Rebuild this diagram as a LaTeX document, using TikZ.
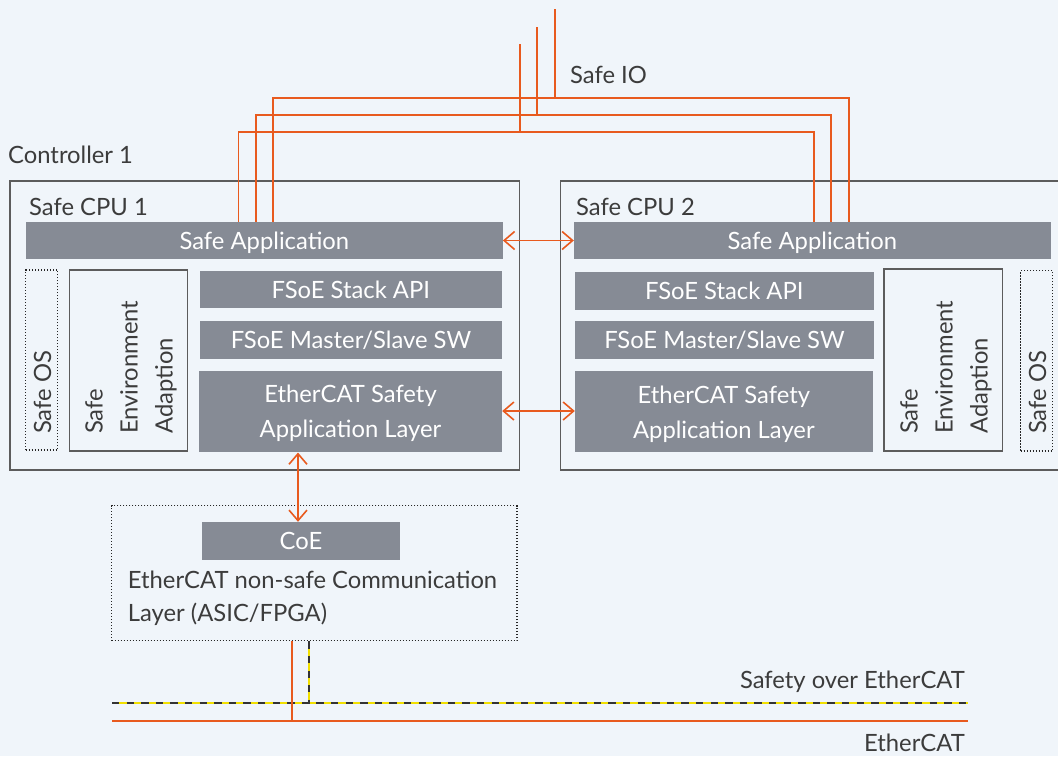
\documentclass[tikz,border=0pt]{standalone}
\usepackage{fontspec}
\setmainfont{Lato}
\usetikzlibrary{arrows.meta,calc}
\definecolor{bgc}{HTML}{F0F5FA}
\definecolor{barc}{HTML}{868B95}
\definecolor{txtc}{HTML}{3C3C3C}
\definecolor{edgec}{HTML}{5C5C5C}
\definecolor{orng}{HTML}{E85A1E}
\definecolor{yel}{HTML}{F2E000}
\tikzset{
  bar/.style={fill=barc, draw=none, text=white, inner sep=0pt, align=center, text depth=0pt},
  cpubox/.style={draw=edgec, line width=1.1pt},
  plainbox/.style={draw=edgec, line width=1.1pt, inner sep=0pt},
  dotbox/.style={draw=black!85, line width=1.2pt, dash pattern=on 1.2pt off 1.8pt, inner sep=0pt},
  lbl/.style={text=txtc, inner sep=0pt},
  wire/.style={draw=orng, line width=1.6pt},
  arr/.style={draw=orng, line width=1.6pt, {Straight Barb[length=10.5pt,width=18pt]}-{Straight Barb[length=10.5pt,width=18pt]}},
  busyel/.style={draw=yel, line width=2.4pt},
  busblk/.style={draw=black!80, line width=2.4pt, dash pattern=on 7.3pt off 7.3pt},
  rottxt/.style={text=txtc, rotate=90, anchor=west, align=left, inner sep=0pt, font=\fontsize{23.8}{35}\selectfont}
}
\begin{document}
\begin{tikzpicture}[x=1pt,y=-1pt,font=\fontsize{23.8}{35}\selectfont]
\fill[bgc] (0,0) rectangle (1058,756);
\useasboundingbox (0,0) rectangle (1058,756);

% labels
\node[lbl, anchor=west] (ctrl) at (8,155) {Controller 1};
\node[lbl, anchor=west] (io) at (570,75) {Safe IO};

% CPU 1
\draw[cpubox] (10,181) rectangle (519.5,470);
\node[lbl, anchor=west] (cpu1) at (29,207) {Safe CPU 1};
\node[bar, minimum width=476.7pt, minimum height=37pt] (sa1) at (264.35,240.5) {Safe Application};
\node[bar, minimum width=301.7pt, minimum height=37pt] (api1) at (350.85,289.5) {FSoE Stack API};
\node[bar, minimum width=302pt, minimum height=37.7pt] (ms1) at (351,339.85) {FSoE Master/Slave SW};
\node[bar, minimum width=303pt, minimum height=81.7pt] (ecs1) at (350.5,411.5) {EtherCAT Safety\\Application Layer};
\node[dotbox, minimum width=32pt, minimum height=180pt] (os1) at (41.7,360) {};
\node[plainbox, minimum width=118pt, minimum height=181pt] (sea1) at (128.7,360.5) {};
\node[rottxt] (os1t) at (42.5,434) {Safe OS};
\node[rottxt] (sea1t) at (131,434) {Safe\\Environment\\Adaption};

% CPU 2
\draw[cpubox] (1062,181) -- (560.7,181) -- (560.7,470) -- (1062,470);
\node[lbl, anchor=west] (cpu2) at (576,207) {Safe CPU 2};
\node[bar, minimum width=476.7pt, minimum height=37pt] (sa2) at (812.35,240.5) {Safe Application};
\node[bar, minimum width=298.7pt, minimum height=37.7pt] (api2) at (724.35,290.85) {FSoE Stack API};
\node[bar, minimum width=299pt, minimum height=38pt] (ms2) at (724.5,340) {FSoE Master/Slave SW};
\node[bar, minimum width=297.7pt, minimum height=80.7pt] (ecs2) at (723.85,411.8) {EtherCAT Safety\\Application Layer};
\node[plainbox, minimum width=118.7pt, minimum height=182pt] (sea2) at (943.35,360) {};
\node[dotbox, minimum width=32pt, minimum height=180.3pt] (os2) at (1036.7,360.85) {};
\node[rottxt] (sea2t) at (946,434) {Safe\\Environment\\Adaption};
\node[rottxt] (os2t) at (1037.5,434) {Safe OS};

% arrows between CPUs
\draw[arr] (sa1.east) -- (sa2.west);
\draw[arr] (ecs1.east |- 0,411) -- (ecs2.west |- 0,411);

% communication layer
\node[dotbox, minimum width=405.3pt, minimum height=135pt] (ecl) at (314.35,573.2) {};
\node[bar, minimum width=198pt, minimum height=37.7pt] (coe) at (301,540.85) {CoE};
\node[lbl, anchor=west, align=left, font=\fontsize{23.8}{33}\selectfont] (eclt) at (127.7,598) {EtherCAT non-safe Communication\\Layer (ASIC/FPGA)};
\coordinate (coeTop) at ([xshift=-3pt]coe.north);
\draw[arr] (ecs1.south -| coeTop) -- (coeTop);

% Safe IO wiring
\coordinate (ioA) at (520,44);
\coordinate (ioB) at (537,27);
\coordinate (ioC) at (555,9);
\draw[wire] ([xshift=-25.85pt]sa1.north) |- (814,132) -- ([xshift=1.65pt]sa2.north);
\draw[wire] ([xshift=-8.35pt]sa1.north) |- (831,115) -- ([xshift=18.65pt]sa2.north);
\draw[wire] ([xshift=8.65pt]sa1.north) |- (849,98) -- ([xshift=36.65pt]sa2.north);
\draw[wire] (ioA) -- (520,132);
\draw[wire] (ioB) -- (537,115);
\draw[wire] (ioC) -- (555,98);

% buses
\coordinate (fsoeL) at (112,703);
\coordinate (fsoeR) at (968,703);
\coordinate (ecatL) at (112,721);
\coordinate (ecatR) at (968,721);
\draw[busyel] (fsoeL) -- (fsoeR);
\draw[busblk] (fsoeL) -- (fsoeR);
\draw[wire] (ecatL) -- (ecatR);
\draw[wire] (ecl.south -| 291.7,0) -- (291.7,721);
\draw[busyel] (ecl.south -| 309,0) -- (309,704);
\draw[busblk] (ecl.south -| 309,0) -- (309,704);
\node[lbl, anchor=east] (soe) at (965,682) {Safety over EtherCAT};
\node[lbl, anchor=east] (ecat) at (965,743) {EtherCAT};
\end{tikzpicture}
\end{document}
